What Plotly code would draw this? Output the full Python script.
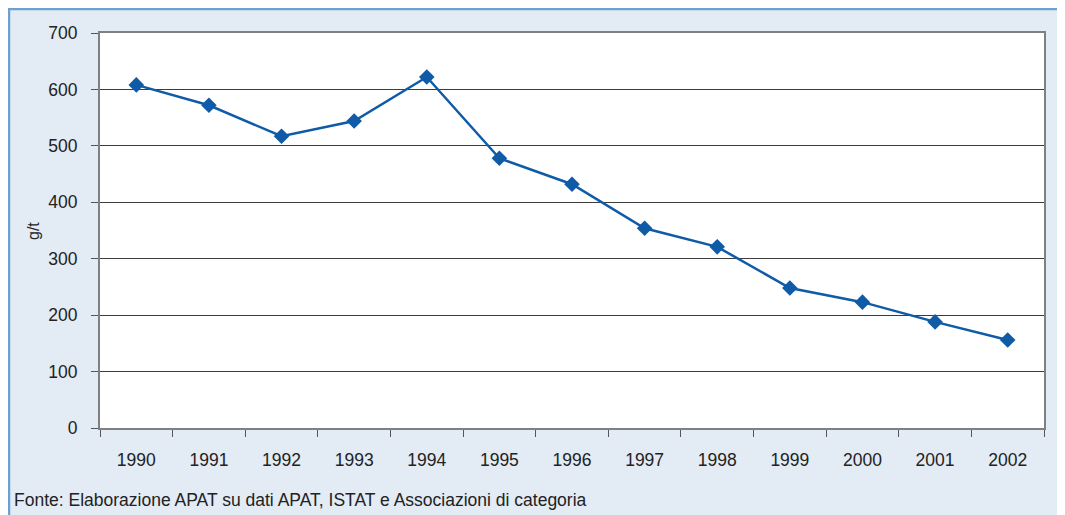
import plotly.graph_objects as go

years = ["1990", "1991", "1992", "1993", "1994", "1995", "1996",
         "1997", "1998", "1999", "2000", "2001", "2002"]
values = [608, 572, 517, 544, 622, 478, 432, 354, 321, 248, 223, 188, 156]
y_ticks = [0, 100, 200, 300, 400, 500, 600, 700]
y_title = "g/t"
source = "Fonte: Elaborazione APAT su dati APAT, ISTAT e Associazioni di categoria"

# the page body adds an 8px margin, so the figure is drawn 8px smaller
OFF = 8
W, H = 1065 - OFF, 515 - OFF
ML, MT = 100 - OFF, 33 - OFF
PR, PB = 1044 - OFF, 428 - OFF
MR, MB = W - PR, H - PB
FONT = "Liberation Sans, Arial, sans-serif"
FS = 17.5
TXT = "#222222"
LINE = "#0f5ba8"
BG = "#e3ebf5"
BORDER = "#6c9fd2"


def px_x(p):
    return (p - OFF - ML) / (W - ML - MR)


def px_y(p):
    return (H - MB - (p - OFF)) / (H - MT - MB)


fig = go.Figure()
fig.add_trace(go.Scatter(
    x=years, y=values, mode="lines+markers",
    line=dict(color=LINE, width=2.5),
    marker=dict(symbol="diamond", size=12, color=LINE),
    showlegend=False, cliponaxis=False,
))

fig.update_layout(
    width=W, height=H,
    margin=dict(l=ML, r=MR, t=MT, b=MB),
    paper_bgcolor="white",
    plot_bgcolor="white",
    font=dict(family=FONT, size=FS, color=TXT),
    shapes=[
        dict(type="rect", xref="paper", yref="paper", layer="below",
             x0=px_x(OFF + 1), x1=px_x(1063), y0=px_y(540), y1=px_y(OFF + 1),
             fillcolor=BG, line=dict(color=BORDER, width=2.5)),
        dict(type="rect", xref="x domain", yref="y domain", layer="below",
             x0=0, x1=1, y0=0, y1=1, fillcolor="white", line=dict(width=0)),
    ],
    annotations=[
        dict(text=source, xref="paper", yref="paper", x=px_x(12), y=px_y(500),
             xanchor="left", yanchor="middle", showarrow=False,
             font=dict(family=FONT, size=FS, color=TXT)),
        dict(text=y_title, xref="paper", yref="paper", x=px_x(33), y=px_y(231),
             xanchor="center", yanchor="middle", showarrow=False, textangle=-90,
             font=dict(family=FONT, size=16, color=TXT)),
    ],
)

fig.update_xaxes(
    type="category", range=[-0.5, len(years) - 0.5],
    showgrid=False, showline=True, linecolor="#808080", linewidth=2, mirror=True,
    ticks="outside", tickson="boundaries", ticklen=7, tickcolor="#555555", tickwidth=1,
    ticklabelstandoff=15,
    tickfont=dict(family=FONT, size=FS, color=TXT),
    fixedrange=True,
)
fig.update_yaxes(
    range=[0, 700], tickvals=y_ticks,
    showgrid=True, gridcolor="#3c3c3c", gridwidth=1,
    zeroline=False,
    showline=True, linecolor="#808080", linewidth=2, mirror=True,
    ticks="outside", ticklen=7, tickcolor="#555555", tickwidth=1,
    ticklabelstandoff=10,
    tickfont=dict(family=FONT, size=FS, color=TXT),
    fixedrange=True,
)

fig.write_html("out.html")
